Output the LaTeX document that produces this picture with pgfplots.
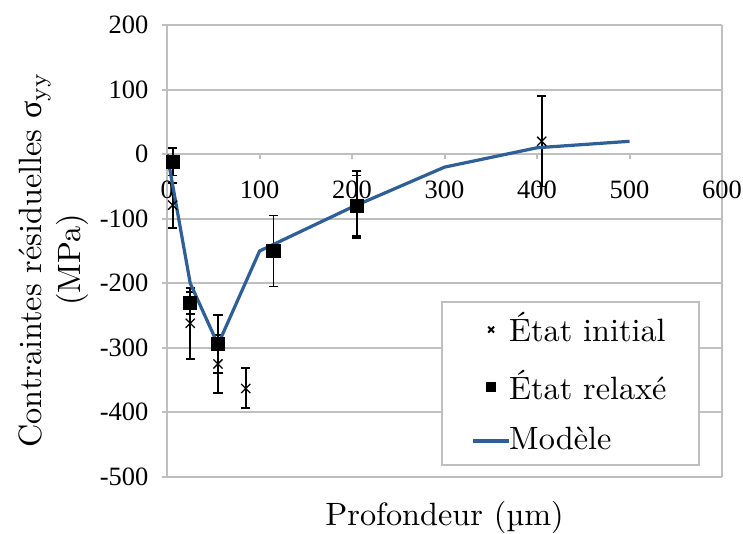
\documentclass[border=0pt]{standalone}
\usepackage{fontspec}
\newfontfamily\timesf{Liberation Serif}
\usepackage{pgfplots}
\pgfplotsset{compat=1.18}
\definecolor{modele}{RGB}{46,95,150}
\definecolor{grille}{RGB}{191,191,191}
\pgfplotsset{
  legende marque/.style={legend image code/.code={\path (0pt,0pt) (9.7pt,0pt); \draw[##1, mark size=1.3pt, overlay] plot coordinates {(6.6pt,0pt)};}},
  legende ligne/.style={legend image code/.code={\path (0pt,0pt) (9.7pt,0pt); \draw[##1, overlay] (1pt,0pt) -- (12.2pt,0pt);}},
  barres/.style={error bars/.cd, y dir=both, y explicit,
    error bar style={black, line width=0.6pt},
    error mark options={rotate=90, mark size=1.4pt, black, line width=0.6pt}},
}
\begin{document}
\begin{tikzpicture}
\begin{axis}[
  name=ax,
  scale only axis, width=172pt, height=140pt,
  xmin=0, xmax=600, ymin=-500, ymax=200,
  axis x line=middle, axis y line=left,
  axis line style={grille, -, line width=0.6pt},
  hide obscured x ticks=false, hide obscured y ticks=false,
  xtick={0,100,...,500}, ytick={-500,-400,...,200},
  extra x ticks={600},
  extra x tick style={xmajorgrids=true},
  ymajorgrids,
  major grid style={grille, line width=0.6pt},
  tick style={grille, line width=0.6pt},
  xtick align=outside, ytick align=outside,
  major tick length=1.6pt,
  /pgf/number format/assume math mode=true,
  ticklabel style={font=\timesf\fontsize{8.2}{10}\selectfont},
  xticklabel style={yshift=-3pt, inner xsep=0pt},
  yticklabel style={xshift=-0.7pt},
  xlabel={Profondeur (µm)},
  xlabel style={at={(axis description cs:0.5,-0.089)}, anchor=center, inner sep=0pt},
  ylabel={Contraintes résiduelles {\timesf σ}$_{\mathrm{yy}}$\\(MPa)},
  ylabel style={at={(axis description cs:-0.205,0.48)}, anchor=center, align=center},
  legend style={at={(axis description cs:0.96,0.024)}, anchor=south east,
    draw=grille, line width=0.6pt, row sep=3.2pt, inner xsep=8pt, inner ysep=1.2pt,
    cells={anchor=west}, font=\normalsize},
]
% Etat initial
\addplot[only marks, mark=x, mark size=2pt, black, legende marque, barres]
coordinates {
  (6,-79) +- (0,35)
  (25,-262) +- (0,55)
  (55,-325) +- (0,45)
  (85,-363) +- (0,31)
  (205,-78) +- (0,52)
  (405,20) +- (0,70)
};
% Etat relaxe
\addplot[only marks, mark=square*, mark size=2pt, black, legende marque, barres]
coordinates {
  (6,-12) +- (0,21)
  (25,-231) +- (0,17)
  (55,-294) +- (0,45)
  (115,-150) +- (0,55)
  (205,-80) +- (0,47)
};
% Modele
\addplot[modele, line width=1pt, no markers, legende ligne]
coordinates {
  (0,0) (25,-200) (55,-295) (100,-150) (200,-82) (300,-20) (400,10) (500,20)
};
\legend{État initial, État relaxé, Modèle}
\end{axis}
% marges de la figure
\path ([xshift=-51.8pt]ax.south west) ([xshift=6.5pt,yshift=7.8pt]ax.north east);
\end{tikzpicture}
\end{document}
